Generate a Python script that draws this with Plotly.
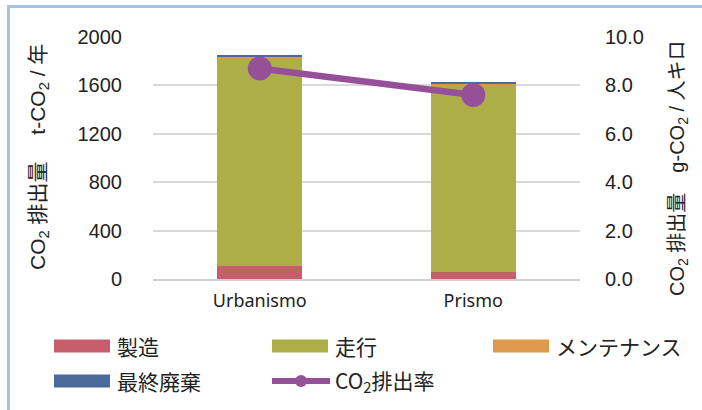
import plotly.graph_objects as go

# ---- data ----
categories = ["Urbanismo", "Prismo"]
series_names = ["製造", "走行", "メンテナンス", "最終廃棄"]
manufacturing = [110, 60]
running = [1712, 1545]
maintenance = [15, 8]
disposal = [8, 8]
rate_name = "CO<sub>2</sub>排出率"
co2_rate = [8.70, 7.60]
left_ticks = [0, 400, 800, 1200, 1600, 2000]
left_ticktext = ["0", "400", "800", "1200", "1600", "2000"]
right_ticks = [0, 2, 4, 6, 8, 10]
right_ticktext = ["0.0", "2.0", "4.0", "6.0", "8.0", "10.0"]

colors = ["#c75e6c", "#adae48", "#de9a4c", "#4a6a9a"]
line_color = "#96509a"
border_color = "#a2c4e8"

LAT = "Liberation Sans, Noto Sans CJK JP"
JP = "Noto Sans CJK JP"

W, H = 702, 410
L, R, T, B = 153, 122, 37, 131
pw, ph = W - L - R, H - T - B


def px(x):
    return (x - L) / pw


def py(y):
    return (H - B - y) / ph


fig = go.Figure()
for name, vals, c in zip(series_names, [manufacturing, running, maintenance, disposal], colors):
    fig.add_trace(go.Bar(x=categories, y=vals, name=name, marker=dict(color=c, line=dict(width=0)),
                         showlegend=False, yaxis="y"))

fig.add_trace(go.Scatter(x=categories, y=co2_rate, name=rate_name, mode="lines+markers",
                         line=dict(color=line_color, width=6.5),
                         marker=dict(color=line_color, size=24),
                         showlegend=False, yaxis="y2"))

shapes = []
annotations = []

# custom legend (entries built from series names / colours)
legend_entries = list(zip(series_names, colors)) + [(rate_name, line_color)]
col_x = [54, 272, 493]
row_y = [346, 381]
for i, (name, c) in enumerate(legend_entries):
    cx = col_x[i % 3]
    ry = row_y[i // 3]
    if i < 4:
        shapes.append(dict(type="rect", xref="paper", yref="paper",
                           x0=px(cx), x1=px(cx + 56), y0=py(ry + 6.5), y1=py(ry - 6.5),
                           fillcolor=c, line=dict(width=0), layer="above"))
    else:
        shapes.append(dict(type="line", xref="paper", yref="paper",
                           x0=px(cx), x1=px(cx + 58), y0=py(ry), y1=py(ry),
                           line=dict(color=c, width=6), layer="above"))
        shapes.append(dict(type="circle", xref="paper", yref="paper",
                           x0=px(cx + 23), x1=px(cx + 35), y0=py(ry + 6), y1=py(ry - 6),
                           fillcolor=c, line=dict(width=0), layer="above"))
    annotations.append(dict(xref="paper", yref="paper", x=px(cx + 61), y=py(ry),
                            xanchor="left", yanchor="middle", showarrow=False, text=name,
                            font=dict(family=JP, size=21, color="#222")))

# axis titles
annotations.append(dict(xref="paper", yref="paper", x=px(39), y=py(157), textangle=-90,
                        showarrow=False, xanchor="center", yanchor="middle",
                        text="CO<sub>2</sub> 排出量　 t-CO<sub>2</sub> / 年",
                        font=dict(family=LAT, size=21, color="#222")))
annotations.append(dict(xref="paper", yref="paper", x=px(678), y=py(168), textangle=-90,
                        showarrow=False, xanchor="center", yanchor="middle",
                        text="CO<sub>2</sub> 排出量　g-CO<sub>2</sub> / 人キロ",
                        font=dict(family=LAT, size=20, color="#222")))

# frame lines
shapes.append(dict(type="line", xref="paper", yref="paper", x0=px(8.5), x1=px(8.5),
                   y0=py(410), y1=py(5.5), line=dict(color=border_color, width=3), layer="above"))
shapes.append(dict(type="line", xref="paper", yref="paper", x0=px(7), x1=px(702),
                   y0=py(6.5), y1=py(6.5), line=dict(color=border_color, width=3), layer="above"))

fig.update_layout(
    width=W, height=H,
    margin=dict(l=L, r=R, t=T, b=B, autoexpand=False),
    barmode="stack", bargap=0.6,
    paper_bgcolor="white", plot_bgcolor="white",
    showlegend=False,
    xaxis=dict(showline=True, linecolor="#d0d0d0", linewidth=1.5, ticks="",
               ticklabelstandoff=5,
               tickfont=dict(family="Noto Sans", size=18, color="#222"), showgrid=False),
    yaxis=dict(range=[0, 2000], tickvals=left_ticks, ticktext=left_ticktext,
               showgrid=True, gridcolor="#d9d9d9", gridwidth=1.5, zeroline=False,
               ticks="", ticklabelstandoff=30,
               tickfont=dict(family=LAT, size=20, color="#222")),
    yaxis2=dict(range=[0, 10], tickvals=right_ticks, ticktext=right_ticktext,
                overlaying="y", side="right", showgrid=False, zeroline=False,
                ticks="", ticklabelstandoff=24,
                tickfont=dict(family=LAT, size=20, color="#222")),
    shapes=shapes, annotations=annotations,
)

fig.write_html("out.html")
